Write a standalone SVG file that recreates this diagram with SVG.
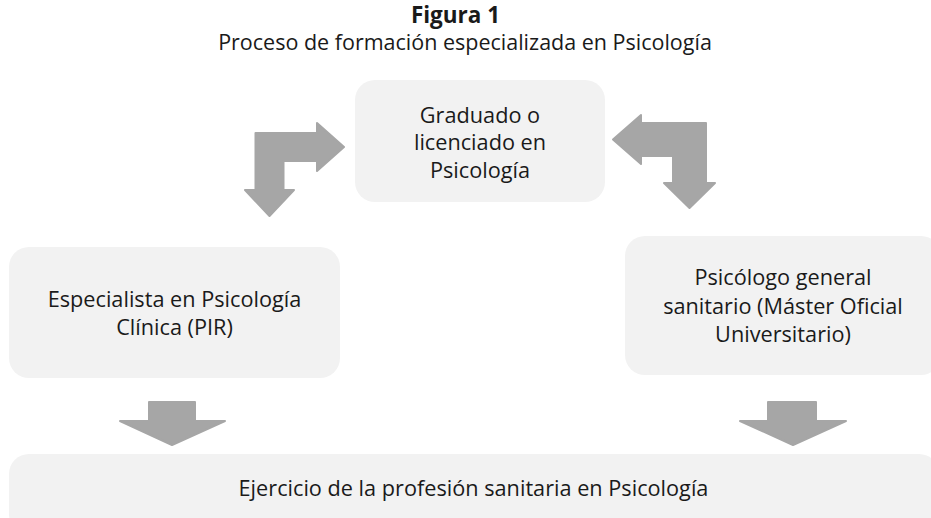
<svg xmlns="http://www.w3.org/2000/svg" width="931" height="518" viewBox="0 0 931 518">
<style>
.box{fill:#f2f2f2}
.arr{fill:#a6a6a6;stroke:#a6a6a6;stroke-width:2;stroke-linejoin:round}
text{font-family:"Open Sans","Noto Sans","Liberation Sans",sans-serif;fill:#1a1a1a;text-anchor:middle}
.t{font-size:21.7px}
.title{font-size:22.5px;font-weight:bold}
.sub{font-size:21.5px}
</style>
<rect width="931" height="518" fill="#ffffff"/>
<g id="title">
<text class="title" x="455.5" y="23">Figura 1</text>
<text class="sub" x="465" y="50">Proceso de formación especializada en Psicología</text>
</g>
<g id="connectors">
<path class="arr" d="M255.5,133 H317 V123 L344,147 L317,171 V161 H283.5 V190 H294 L269.5,216 L245,190 H255.5 Z"/>
<path class="arr" d="M706,123 H641 V115 L613,139.5 L641,164 V156 H673 V183 H664 L689.5,208 L715,183 H706 Z"/>
<path class="arr" d="M149,402 H195 V421 H225 L172,445 L120,421 H149 Z"/>
<path class="arr" d="M768,402 H816 V421 H846 L793,445 L740,421 H768 Z"/>
</g>
<g id="node-graduado">
<rect class="box" x="355" y="80" width="250" height="122" rx="20"/>
<text class="t" x="480" y="122.5">Graduado o</text>
<text class="t" x="480" y="150">licenciado en</text>
<text class="t" x="480" y="177.5">Psicología</text>
</g>
<g id="node-especialista">
<rect class="box" x="9" y="247" width="331" height="131" rx="20"/>
<text class="t" x="174.5" y="307">Especialista en Psicología</text>
<text class="t" x="174.5" y="335">Clínica (PIR)</text>
</g>
<g id="node-psicologo">
<rect class="box" x="625" y="236" width="316" height="139" rx="20"/>
<text class="t" x="783" y="285">Psicólogo general</text>
<text class="t" x="783" y="314">sanitario (Máster Oficial</text>
<text class="t" x="783" y="342">Universitario)</text>
</g>
<g id="node-ejercicio">
<rect class="box" x="9" y="454" width="930" height="80" rx="20"/>
<text class="t" x="473.5" y="496">Ejercicio de la profesión sanitaria en Psicología</text>
</g>
</svg>
